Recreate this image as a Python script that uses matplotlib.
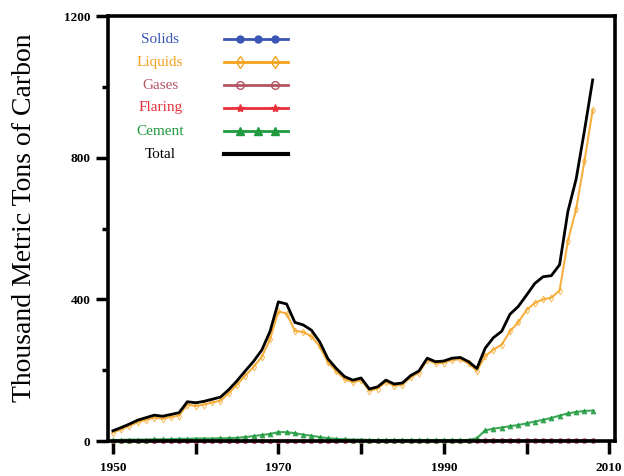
import matplotlib.pyplot as plt
from matplotlib.ticker import MultipleLocator, FixedLocator

plt.rcParams['font.family'] = ['Liberation Serif', 'DejaVu Serif']

years = list(range(1950, 2009))

solids = [0, 0, 0, 0, 0, 0, 0, 0, 0, 0,
          0, 0, 0, 0, 0, 0, 0, 0, 0, 0,
          0, 0, 0, 0, 0, 0, 0, 0, 0, 0,
          0, 0, 0, 0, 0, 0, 0, 0, 0, 0,
          0, 0, 0, 0, 1, 1, 1, 1, 1, 1,
          1, 1, 1, 1, 1, 1, 1, 1, 1]
gases = [1, 1, 1, 1, 1, 1, 1, 1, 1, 1,
         1, 1, 1, 1, 1, 1, 1, 1, 1, 1,
         1, 1, 1, 1, 1, 1, 1, 1, 1, 1,
         1, 1, 1, 1, 1, 1, 1, 1, 1, 1,
         1, 1, 1, 1, 2, 2, 2, 2, 2, 2,
         2, 2, 2, 2, 2, 2, 2, 2, 2]
flaring = [0, 0, 0, 0, 0, 0, 0, 0, 0, 0,
           0, 0, 0, 0, 0, 0, 0, 0, 0, 0,
           0, 0, 0, 0, 0, 0, 0, 0, 0, 0,
           0, 0, 0, 0, 0, 0, 0, 0, 0, 0,
           0, 0, 0, 0, 0, 0, 0, 0, 0, 0,
           0, 0, 0, 0, 0, 0, 0, 0, 0]
cement = [3, 3, 4, 4, 4, 5, 5, 5, 6, 6,
          7, 7, 7, 8, 8, 9, 11, 14, 17, 20,
          25, 25, 22, 18, 15, 11, 8, 6, 5, 4,
          4, 3, 3, 3, 3, 3, 3, 3, 3, 3,
          3, 3, 3, 3, 8, 30, 35, 38, 42, 45,
          50, 55, 60, 65, 72, 78, 82, 85, 86]
liquids = [24, 33, 43, 53, 60, 66, 63, 68, 72, 103,
           99, 103, 109, 114, 135, 159, 185, 209, 238, 288,
           366, 360, 311, 308, 296, 267, 222, 197, 175, 166,
           172, 142, 148, 167, 156, 159, 180, 193, 229, 219,
           221, 229, 231, 219, 198, 240, 258, 272, 310, 335,
           370, 390, 400, 405, 425, 565, 655, 790, 935]
total = [29, 38, 48, 59, 66, 73, 70, 75, 80, 111,
         108, 112, 118, 124, 145, 170, 198, 225, 257, 310,
         393, 387, 335, 328, 313, 280, 232, 205, 182, 172,
         178, 147, 153, 172, 161, 164, 185, 198, 234, 224,
         226, 234, 236, 224, 205, 262, 292, 310, 358, 380,
         412, 445, 464, 467, 498, 648, 740, 876, 1020]

x_labels = [1950, 1970, 1990, 2010]

series = [
    ("Solids", solids, "#3a55b4", "o", "#3a55b4", 2.5),
    ("Liquids", liquids, "#f5a21e", "d", "none", 3.5),
    ("Gases", gases, "#b25462", "o", "none", 3),
    ("Flaring", flaring, "#ea2f3c", "*", "#ea2f3c", 3.5),
    ("Cement", cement, "#1f9a3e", "^", "#1f9a3e", 3.5),
    ("Total", total, "black", None, "black", 0),
]

fig = plt.figure(figsize=(6.24, 4.76), dpi=100)
ax = fig.add_axes([0.173, 0.0735, 0.8126, 0.8925])

for name, vals, color, marker, mfc, ms in series:
    lw = 2.0 if name == "Total" else 1.5
    ax.plot(years, vals, color=color, lw=lw, marker=marker, ms=ms,
            mfc=mfc, mec=color, mew=0.6, alpha=0.85 if name != "Total" else 1.0,
            zorder=3 if name == "Total" else 2, clip_on=False)

# legend drawn by hand: label on the left, sample line on the right
row_y = [0.946, 0.892, 0.838, 0.784, 0.729, 0.675]
for (name, vals, color, marker, mfc, ms), y in zip(series, row_y):
    ax.text(0.103, y, name, color=color, ha="center", va="center",
            fontsize=11, transform=ax.transAxes)
    ax.plot([0.229, 0.355], [y, y], color=color, lw=2.0 if name != "Total" else 3.0,
            transform=ax.transAxes)
    if marker:
        n = 3 if name in ("Solids", "Cement") else 2
        xs = [0.26 + i * 0.07 / (n - 1) for i in range(n)]
        ax.plot(xs, [y] * n, ls="none", marker=marker, color=color,
                ms=ms + 2.5, mfc=mfc, mec=color, mew=1.0, transform=ax.transAxes)

ax.set_xlim(1949.4, 2010.7)
ax.set_ylim(0, 1200)
ax.xaxis.set_major_locator(FixedLocator(x_labels))
ax.xaxis.set_minor_locator(MultipleLocator(10))
ax.yaxis.set_major_locator(MultipleLocator(400))
ax.yaxis.set_minor_locator(MultipleLocator(200))
ax.tick_params(which="major", direction="out", length=9, width=2.5, labelsize=9.5)
ax.tick_params(which="minor", direction="out", length=9, width=2.5)
ax.tick_params(axis="y", which="minor", length=4)
ax.tick_params(axis="x", pad=6)
for lab in ax.get_xticklabels() + ax.get_yticklabels():
    lab.set_fontweight("bold")
for sp in ax.spines.values():
    sp.set_linewidth(2.6)

ax.set_ylabel("Thousand Metric Tons of Carbon", fontsize=20)
ax.yaxis.set_label_coords(-0.14, 0.525)

fig.savefig("out.png", dpi=100)
